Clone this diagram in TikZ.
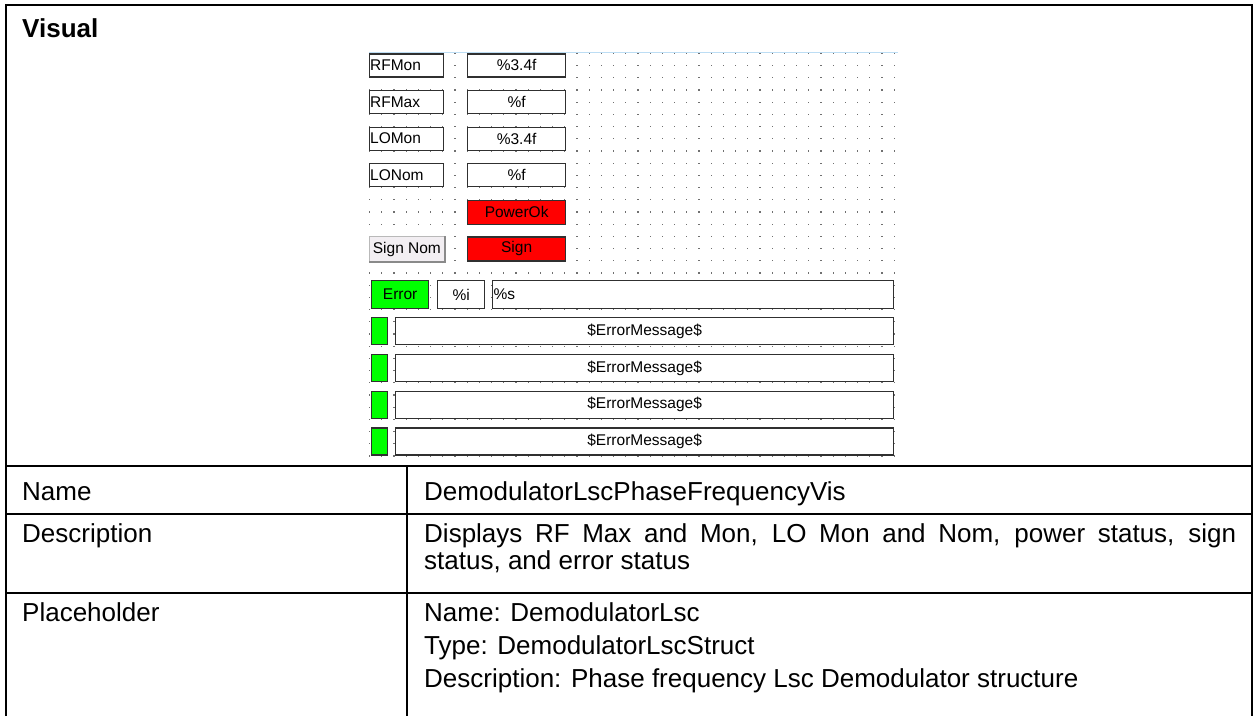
\documentclass[tikz,border=0pt]{standalone}
\usepackage{fontspec}
\setmainfont{Liberation Sans}
\definecolor{boxline}{HTML}{303030}
\definecolor{gridgray}{HTML}{707070}
\definecolor{okred}{HTML}{FF0000}
\definecolor{okgreen}{HTML}{00FF00}
\definecolor{btnfill}{HTML}{F2EEF2}
\definecolor{btnedge}{HTML}{8A8A8A}
\definecolor{rulerblue}{HTML}{BCDDF4}
\begin{document}
\begin{tikzpicture}[x=1pt,y=-1pt,
  tbl/.style={line width=2.4pt, black},
  ttext/.style={inner sep=0pt, font=\fontsize{26}{30}\selectfont, anchor=base west},
  wbox/.style={draw=boxline, line width=1.3pt, fill=white, inner sep=0pt, anchor=north west, font=\fontsize{15.5}{18}\selectfont},
  lbox/.style={wbox, minimum height=23pt, text width=73pt, inner xsep=0.5pt, align=left},
  fbox/.style={wbox, minimum height=23pt, minimum width=98pt},
  redbox/.style={wbox, fill=okred, minimum height=24pt, minimum width=98pt},
  ledbox/.style={wbox, fill=okgreen, minimum height=27pt, minimum width=16pt},
  msgbox/.style={wbox, minimum height=27pt, minimum width=498pt},
]
\useasboundingbox (0,0) rectangle (1255,716);
\fill[white] (0,0) rectangle (1255,716);

% dotted design grid
\foreach \i in {0,...,43}{
  \foreach \j in {0,...,33}{
    \fill[gridgray] (369.5+12.2*\i-0.6, 53.3+12.2*\j-0.6) rectangle ++(1.2,1.2);
  }
}
\draw[rulerblue, line width=1pt] (369,52) -- (898,52);

% labels and format boxes
\node[lbox] (rfmon) at (369,53.3) {RFMon};
\node[fbox] (rfmonv) at (467,53.3) {\%3.4f};
\node[lbox] (rfmax) at (369,89.9) {RFMax};
\node[fbox] (rfmaxv) at (467,89.9) {\%f};
\node[lbox] (lomon) at (369,126.5) {LOMon};
\node[fbox] (lomonv) at (467,126.5) {\%3.4f};
\node[lbox] (lonom) at (369,163.1) {LONom};
\node[fbox] (lonomv) at (467,163.1) {\%f};
\node[redbox] (powerok) at (467,199.7) {PowerOk};
\node[wbox, draw=btnedge!60, line width=0.8pt, fill=btnfill, minimum width=75pt, minimum height=25pt] (signnom) at (369,236.3) {Sign Nom};
\draw[btnedge, line width=1.6pt] (signnom.south west) -- (signnom.south east) -- (signnom.north east);
\node[redbox] (sign) at (467,236.3) {Sign};

% error row
\node[wbox, fill=okgreen, minimum width=57pt, minimum height=28pt] (error) at (371,280) {Error};
\node[wbox, minimum width=47pt, minimum height=28pt] (errnum) at (437,280) {\%i};
\node[wbox, minimum height=28pt, text width=399pt, inner xsep=1pt, align=left] (errtext) at (492,280) {\%s};

% error message rows
\foreach \k/\yy in {0/317,1/353.8,2/390.6,3/427.4}{
  \node[ledbox] (led\k) at (371,\yy) {};
  \node[msgbox] (msg\k) at (395,\yy) {\$ErrorMessage\$};
}

% table
\draw[tbl, line join=miter] (6,716) -- (6,5) -- (1252,5) -- (1252,716);
\draw[tbl] (6,466) -- (1252,466);
\draw[tbl] (6,514) -- (1252,514);
\draw[tbl] (6,593) -- (1252,593);
\draw[tbl] (407,466) -- (407,716);

\node[ttext, font=\bfseries\fontsize{26}{30}\selectfont] (visual) at (22,37) {Visual};
\node[ttext] (namek) at (22,500) {Name};
\node[ttext] (namev) at (424,500) {DemodulatorLscPhaseFrequencyVis};
\node[ttext] (desck) at (22,542) {Description};
\node[ttext] (desc1) at (424,542) {\makebox[812pt][s]{Displays RF Max and Mon, LO Mon and Nom, power status, sign}};
\node[ttext] (desc2) at (424,569) {status, and error status};
\node[ttext] (phk) at (22,621) {Placeholder};
\node[ttext] (ph1) at (424,621) {Name: DemodulatorLsc};
\node[ttext] (ph2) at (424,654) {Type: DemodulatorLscStruct};
\node[ttext] (ph3) at (424,687) {Description: Phase frequency Lsc Demodulator structure};
\end{tikzpicture}
\end{document}
